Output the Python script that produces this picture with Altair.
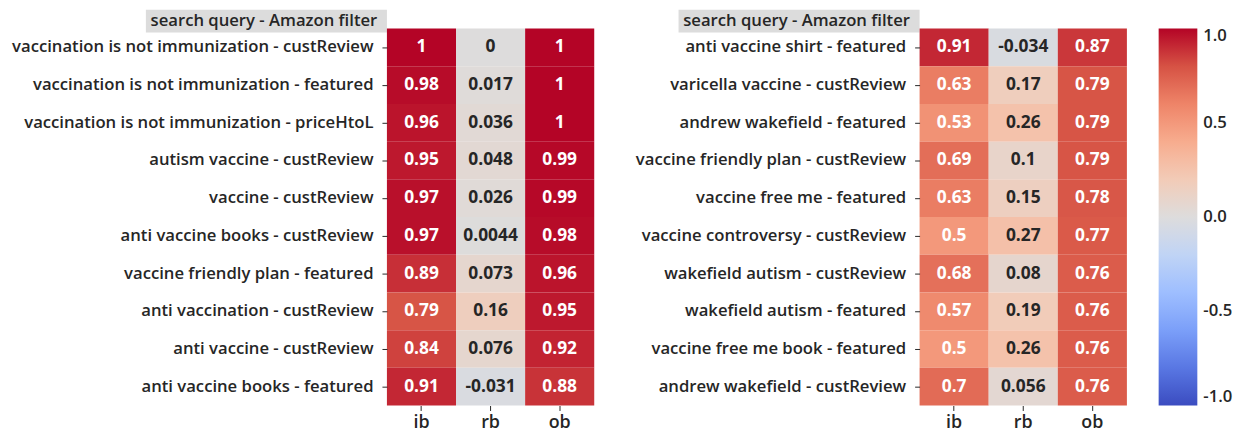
import altair as alt
import pandas as pd

columns = ["ib", "rb", "ob"]
title_text = "search query - Amazon filter"

left_queries = [
    "vaccination is not immunization - custReview",
    "vaccination is not immunization - featured",
    "vaccination is not immunization - priceHtoL",
    "autism vaccine - custReview",
    "vaccine - custReview",
    "anti vaccine books - custReview",
    "vaccine friendly plan - featured",
    "anti vaccination - custReview",
    "anti vaccine - custReview",
    "anti vaccine books - featured",
]
left_ib = [1, 0.98, 0.96, 0.95, 0.97, 0.97, 0.89, 0.79, 0.84, 0.91]
left_rb = [0, 0.017, 0.036, 0.048, 0.026, 0.0044, 0.073, 0.16, 0.076, -0.031]
left_ob = [1, 1, 1, 0.99, 0.99, 0.98, 0.96, 0.95, 0.92, 0.88]

right_queries = [
    "anti vaccine shirt - featured",
    "varicella vaccine - custReview",
    "andrew wakefield - featured",
    "vaccine friendly plan - custReview",
    "vaccine free me - featured",
    "vaccine controversy - custReview",
    "wakefield autism - custReview",
    "wakefield autism - featured",
    "vaccine free me book - featured",
    "andrew wakefield - custReview",
]
right_ib = [0.91, 0.63, 0.53, 0.69, 0.63, 0.5, 0.68, 0.57, 0.5, 0.7]
right_rb = [-0.034, 0.17, 0.26, 0.1, 0.15, 0.27, 0.08, 0.19, 0.26, 0.056]
right_ob = [0.87, 0.79, 0.79, 0.79, 0.78, 0.77, 0.76, 0.76, 0.76, 0.76]

coolwarm_domain = [-1, -0.8, -0.6, -0.4, -0.2, 0, 0.2, 0.4, 0.6, 0.8, 1]
coolwarm_range = ['#3b4cc0', '#5977e3', '#7b9ff9', '#9ebeff', '#c0d4f5', '#dddcdc',
                  '#f2cbb7', '#f7ac8e', '#ee8468', '#d65244', '#b40426']
legend_values = [-1, -0.5, 0, 0.5, 1]

FONT = "Open Sans"
LABEL_SIZE = 16.8


def make_df(queries, ib, rb, ob):
    rows = []
    for q, a, b, c in zip(queries, ib, rb, ob):
        for col, v in zip(columns, (a, b, c)):
            rows.append({"query": q, "metric": col, "value": v, "label": str(v)})
    return pd.DataFrame(rows)


color_scale = alt.Scale(domain=coolwarm_domain, range=coolwarm_range, interpolate="rgb")


def panel(df, queries):
    x = alt.X("metric:N", sort=columns, title=None,
              axis=alt.Axis(labelAngle=0, labelFontSize=18, labelFont=FONT, labelFontWeight=600,
                            labelColor="#262626", domain=False, tickSize=5, tickColor="#262626",
                            labelPadding=3))
    y = alt.Y("query:N", sort=queries, title=None,
              axis=alt.Axis(labelFontSize=LABEL_SIZE, labelFont=FONT, labelFontWeight=600,
                            labelColor="#262626", domain=False, tickSize=5, tickColor="#262626",
                            labelPadding=9, labelLimit=600))
    box = alt.Chart(pd.DataFrame({"t": [title_text]})).mark_rect(color="#dcdcdc").encode(
        x=alt.value(-243), x2=alt.value(0), y=alt.value(-19), y2=alt.value(4))
    box_text = alt.Chart(pd.DataFrame({"t": [title_text]})).mark_text(
        align="center", baseline="middle", fontSize=LABEL_SIZE, font=FONT, fontWeight=600,
        color="#262626"
    ).encode(x=alt.value(-124), y=alt.value(-8), text="t:N")
    rect = alt.Chart(df).mark_rect().encode(
        x=x, y=y,
        color=alt.Color("value:Q", scale=color_scale,
                        legend=alt.Legend(title=None, values=legend_values, gradientLength=380,
                                          gradientThickness=39, labelFontSize=LABEL_SIZE,
                                          labelFont=FONT, labelFontWeight=600,
                                          labelColor="#262626", labelOffset=6,
                                          labelExpr="datum.value == 0 ? '0.0' : (datum.value < 0 ? '-' : '') + format(abs(datum.value), '.1f')",
                                          offset=32, padding=0, gradientStrokeWidth=0)))
    text = alt.Chart(df).mark_text(fontSize=17.5, fontWeight="bold", font=FONT).encode(
        x=x, y=y, text="label:N",
        color=alt.condition(alt.datum.value > 0.4, alt.value("white"), alt.value("#262626")))
    return alt.layer(box, box_text, rect, text).properties(width=209, height=380)


left = panel(make_df(left_queries, left_ib, left_rb, left_ob), left_queries)
right = panel(make_df(right_queries, right_ib, right_rb, right_ob), right_queries)

chart = alt.hconcat(left, right, spacing=41).resolve_scale(color="shared").properties(
    padding={"left": 3, "top": 0, "right": 5, "bottom": 5}
).configure_view(stroke=None).configure_axis(grid=False)

chart.save("out.html", embed_options={"renderer": "svg", "actions": False})
